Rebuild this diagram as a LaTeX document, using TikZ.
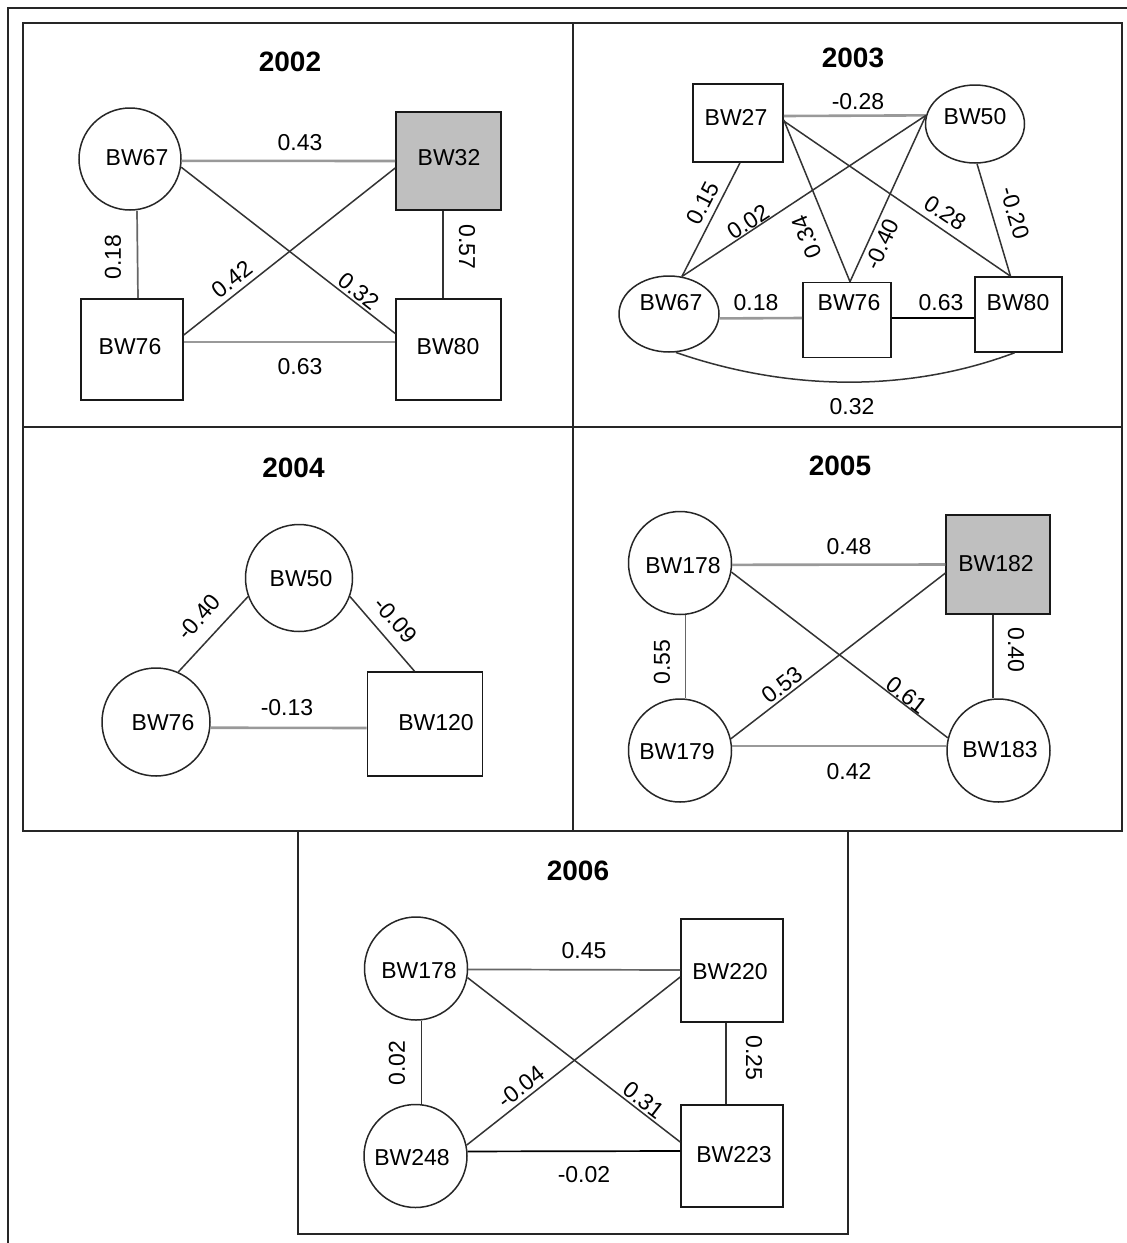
\documentclass[tikz,border=0pt]{standalone}
\usepackage{fontspec}
\setmainfont{Liberation Sans}
\usetikzlibrary{shapes.geometric}
\begin{document}
\begin{tikzpicture}[x=1pt,y=-1pt,
  frm/.style={draw=black!85, line width=2pt},
  circ/.style={circle, draw=black!85, line width=1.5pt, inner sep=0pt},
  ell/.style={ellipse, draw=black!85, line width=1.5pt, inner sep=0pt},
  sq/.style={rectangle, draw=black!90, line width=1.6pt, inner sep=0pt},
  sqg/.style={sq, fill=black!25},
  lbl/.style={font=\fontsize{23}{26}\selectfont, inner sep=0pt},
  ttl/.style={font=\bfseries\fontsize{28}{32}\selectfont, inner sep=0pt},
  lnk/.style={draw=black!80, line width=1.5pt},
  lnkg/.style={draw=black!40, line width=2.6pt},
  lnkm/.style={draw=black!60, line width=1.7pt},
  lnkd/.style={draw=black, line width=1.7pt}
]
\useasboundingbox (0,0) rectangle (1127,1243);
\fill[white] (0,0) rectangle (1127,1243);
% frames
\draw[frm] (8,1243) -- (8,8) -- (1127,8);
\draw[frm] (23,23) rectangle (1122,831);
\draw[frm] (573,23) -- (573,831);
\draw[frm] (23,427) -- (1122,427);
\draw[frm] (298,831) rectangle (848,1234);

% ---------- 2002 ----------
\node[ttl] (y02) at (290,62) {2002};
\node[circ, minimum size=102pt] (a67) at (130,159) {};
\node[sqg, minimum width=105pt, minimum height=98pt] (a32) at (448.5,161) {};
\node[sq, minimum width=102pt, minimum height=101pt] (a76) at (132,349.5) {};
\node[sq, minimum width=105pt, minimum height=101pt] (a80) at (448.5,349.5) {};
\node[lbl] (ta67) at (137,158) {BW67};
\node[lbl] (ta32) at (449,158) {BW32};
\node[lbl] (ta76) at (130,347) {BW76};
\node[lbl] (ta80) at (448,347) {BW80};
\draw[lnkg] (a67.-2) -- (a32.west);
\draw[lnkg] ([yshift=7.5pt]a76.east) -- ([yshift=7.5pt]a80.west);
\draw[lnkm] ([xshift=7pt]a67.south) -- ([xshift=6pt]a76.north);
\draw[lnk] ([xshift=-5.5pt]a32.south) -- ([xshift=-5.5pt]a80.north);
\draw[lnk] (a67.-9) -- ([yshift=16pt]a80.west);
\draw[lnk] ([yshift=14.5pt]a76.east) -- ([yshift=-7pt]a32.west);
\node[lbl] (la1) at (300,143) {0.43};
\node[lbl] (la2) at (300,367) {0.63};
\node[lbl, rotate=90] (la3) at (113,257) {0.18};
\node[lbl, rotate=-90] (la4) at (467,247) {0.57};
\node[lbl, rotate=-38] (la5) at (359,291) {0.32};
\node[lbl, rotate=38] (la6) at (232,279) {0.42};

% ---------- 2003 ----------
\node[ttl] (y03) at (853,58) {2003};
\node[sq, minimum width=90pt, minimum height=78pt] (b27) at (738,123) {};
\node[ell, minimum width=99pt, minimum height=78pt] (b50) at (975,124) {};
\node[ell, minimum width=100pt, minimum height=76pt] (b67) at (669,314) {};
\node[sq, minimum width=88pt, minimum height=75pt] (b76) at (847,320) {};
\node[sq, minimum width=87pt, minimum height=75pt] (b80) at (1018.5,314.5) {};
\node[lbl] (tb27) at (736,117) {BW27};
\node[lbl] (tb50) at (975,117) {BW50};
\node[lbl] (tb67) at (671,303) {BW67};
\node[lbl] (tb76) at (849,303) {BW76};
\node[lbl] (tb80) at (1018,303) {BW80};
\draw[lnkg] ([yshift=7pt]b27.east) -- (b50.170);
\draw[lnk] ([xshift=2pt]b27.south) -- (b67.71);
\draw[lnk] (b50.170) -- (b67.71);
\draw[lnk] ([yshift=3pt]b27.east) -- ([xshift=3pt]b76.north);
\draw[lnk] (b50.170) -- ([xshift=3pt]b76.north);
\draw[lnk] ([yshift=2pt]b27.east) -- ([xshift=-8pt]b80.north);
\draw[lnk] ([xshift=2pt]b50.south) -- ([xshift=-8pt]b80.north);
\draw[lnkg] (b67.-5) -- ([yshift=2pt]b76.west);
\draw[lnkd] ([yshift=2pt]b76.east) -- ([yshift=-3.5pt]b80.west);
\draw[lnk] (b67.-80) .. controls (790,392) and (910,392) .. ([xshift=-4pt]b80.south);
\node[lbl] (lb1) at (858,102) {-0.28};
\node[lbl, rotate=63] (lb2) at (703,203) {0.15};
\node[lbl, rotate=33] (lb3) at (748,222) {0.02};
\node[lbl, rotate=112] (lb4) at (807,237) {0.34};
\node[lbl, rotate=65] (lb5) at (882,244) {-0.40};
\node[lbl, rotate=-34] (lb6) at (945,213) {0.28};
\node[lbl, rotate=-74] (lb7) at (1015,213) {-0.20};
\node[lbl] (lb8) at (756,303) {0.18};
\node[lbl] (lb9) at (941,303) {0.63};
\node[lbl] (lb10) at (852,407) {0.32};

% ---------- 2004 ----------
\node[ttl] (y04) at (293.5,468) {2004};
\node[circ, minimum size=107pt] (c50) at (299,578) {};
\node[circ, minimum size=108pt] (c76) at (156,722) {};
\node[sq, minimum width=115pt, minimum height=104pt] (c120) at (425,724) {};
\node[lbl] (tc50) at (301,579) {BW50};
\node[lbl] (tc76) at (163,723) {BW76};
\node[lbl] (tc120) at (436,723) {BW120};
\draw[lnk] (c50.200) -- (c76.66);
\draw[lnk] (c50.-20) -- ([xshift=-10.5pt]c120.north);
\draw[lnkg] (c76.-6) -- ([yshift=-4pt]c120.west);
\node[lbl, rotate=49] (lc1) at (199,617) {-0.40};
\node[lbl, rotate=-49] (lc2) at (396,620) {-0.09};
\node[lbl] (lc3) at (287,708) {-0.13};

% ---------- 2005 ----------
\node[ttl] (y05) at (840,465.5) {2005};
\node[circ, minimum size=103pt] (d178) at (680,563) {};
\node[sqg, minimum width=103.5pt, minimum height=99pt] (d182) at (998,564.5) {};
\node[circ, minimum size=103pt] (d179) at (680,750.5) {};
\node[circ, minimum size=103pt] (d183) at (998.5,750.5) {};
\node[lbl] (td178) at (683,566) {BW178};
\node[lbl] (td182) at (996,564) {BW182};
\node[lbl] (td179) at (677,752) {BW179};
\node[lbl] (td183) at (1000,750) {BW183};
\draw[lnkg] (d178.-2) -- (d182.west);
\draw[lnkg] (d179.5) -- (d183.175);
\draw[lnkm] ([xshift=5.5pt]d178.south) -- ([xshift=5.5pt]d179.north);
\draw[lnk] ([xshift=-5pt]d182.south) -- ([xshift=-5.5pt]d183.north);
\draw[lnk] (d178.-10) -- (d183.166);
\draw[lnk] (d179.13) -- ([yshift=-8.5pt]d182.west);
\node[lbl] (ld1) at (849,547) {0.48};
\node[lbl] (ld2) at (849,772) {0.42};
\node[lbl, rotate=90] (ld3) at (662,662) {0.55};
\node[lbl, rotate=-90] (ld4) at (1016,650) {0.40};
\node[lbl, rotate=-37.7] (ld5) at (907,695) {0.61};
\node[lbl, rotate=37.7] (ld6) at (782,685) {0.53};

% ---------- 2006 ----------
\node[ttl] (y06) at (578,870.5) {2006};
\node[circ, minimum size=103pt] (e178) at (416,968.5) {};
\node[sq, minimum width=102pt, minimum height=103pt] (e220) at (732,970.5) {};
\node[circ, minimum size=103pt] (e248) at (415.5,1156) {};
\node[sq, minimum width=102pt, minimum height=102pt] (e223) at (732,1156) {};
\node[lbl] (te178) at (419,971) {BW178};
\node[lbl] (te220) at (730,972) {BW220};
\node[lbl] (te248) at (412,1158) {BW248};
\node[lbl] (te223) at (734,1155) {BW223};
\draw[lnkm] (e178.-1) -- ([yshift=0.5pt]e220.west);
\draw[lnkd] (e248.5) -- ([yshift=5pt]e223.west);
\draw[lnk] ([xshift=5.5pt]e178.south) -- ([xshift=6pt]e248.north);
\draw[lnk] ([xshift=-6pt]e220.south) -- ([xshift=-6pt]e223.north);
\draw[lnk] (e178.-10.5) -- ([yshift=14pt]e223.west);
\draw[lnk] (e248.12) -- ([yshift=-6.5pt]e220.west);
\node[lbl] (le1) at (584,951) {0.45};
\node[lbl] (le2) at (584,1175) {-0.02};
\node[lbl, rotate=90] (le3) at (397,1063) {0.02};
\node[lbl, rotate=-90] (le4) at (754,1058) {0.25};
\node[lbl, rotate=-37.5] (le5) at (644,1100) {0.31};
\node[lbl, rotate=38] (le6) at (521,1087) {-0.04};
\end{tikzpicture}
\end{document}
